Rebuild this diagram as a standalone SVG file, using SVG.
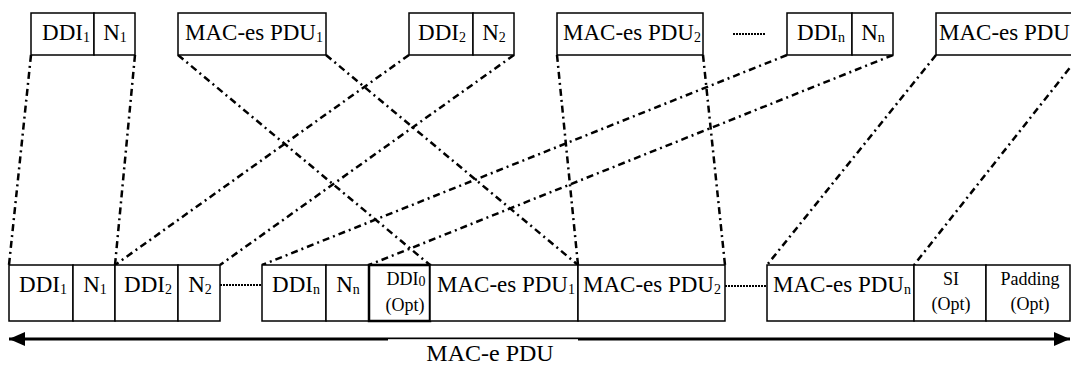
<svg xmlns="http://www.w3.org/2000/svg" width="1071" height="365" viewBox="0 0 1071 365">
<defs>
<style>
.box{fill:#fff;stroke:#000;stroke-width:1.5}
.thick{fill:#fff;stroke:#000;stroke-width:2.5}
.t{font-family:"Liberation Serif","Times New Roman",serif;font-size:23px;fill:#000;text-anchor:middle}
.s{font-family:"Liberation Serif","Times New Roman",serif;font-size:18px;fill:#000;text-anchor:middle}
.sub{font-size:14px}
.dd{fill:none;stroke:#000;stroke-width:2.5;stroke-dasharray:7 4 2 4}
.dot{fill:none;stroke:#000;stroke-width:2;stroke-dasharray:2 1}
</style>
<marker id="ah" viewBox="0 0 16 14" refX="16" refY="7" markerWidth="16" markerHeight="14" markerUnits="userSpaceOnUse" orient="auto-start-reverse">
<path d="M0,0 L16,7 L0,14 Z" fill="#000"/>
</marker>
</defs>
<rect width="1071" height="365" fill="#fff"/>

<g id="connectors">
<line class="dd" x1="31" y1="55" x2="9" y2="265"/>
<line class="dd" x1="135" y1="55" x2="115" y2="265"/>
<line class="dd" x1="178" y1="55" x2="430" y2="265"/>
<line class="dd" x1="326" y1="55" x2="578" y2="265"/>
<line class="dd" x1="409" y1="55" x2="115" y2="265"/>
<line class="dd" x1="514" y1="55" x2="220" y2="265"/>
<line class="dd" x1="557" y1="55" x2="578" y2="265"/>
<line class="dd" x1="703" y1="55" x2="725" y2="265"/>
<line class="dd" x1="787" y1="55" x2="262" y2="265"/>
<line class="dd" x1="893" y1="55" x2="369" y2="265"/>
<line class="dd" x1="936" y1="55" x2="767" y2="265"/>
<line class="dd" x1="1080" y1="55" x2="914" y2="265"/>
<line class="dot" x1="733" y1="34" x2="765" y2="34"/>
<line class="dot" x1="220" y1="285" x2="262" y2="285"/>
<line class="dot" x1="725" y1="286" x2="767" y2="286"/>
<line x1="9" y1="339" x2="1070" y2="339" stroke="#000" stroke-width="3" marker-start="url(#ah)" marker-end="url(#ah)"/>
<rect x="388" y="339.2" width="190" height="26" fill="#fff"/>
</g>

<g id="top-ddi1-n1">
<rect class="box" x="31" y="13" width="63" height="42"/>
<rect class="box" x="94" y="13" width="41" height="42"/>
<text class="t" x="66" y="40">DDI<tspan class="sub" dy="1.5">1</tspan></text>
<text class="t" x="115" y="40">N<tspan class="sub" dy="1.5">1</tspan></text>
</g>
<g id="top-pdu1">
<rect class="box" x="178" y="13" width="148" height="42"/>
<text class="t" x="254" y="40">MAC-es PDU<tspan class="sub" dy="1.5">1</tspan></text>
</g>
<g id="top-ddi2-n2">
<rect class="box" x="409" y="13" width="64" height="42"/>
<rect class="box" x="473" y="13" width="41" height="42"/>
<text class="t" x="442" y="40">DDI<tspan class="sub" dy="1.5">2</tspan></text>
<text class="t" x="494" y="40">N<tspan class="sub" dy="1.5">2</tspan></text>
</g>
<g id="top-pdu2">
<rect class="box" x="557" y="13" width="146" height="42"/>
<text class="t" x="632" y="40">MAC-es PDU<tspan class="sub" dy="1.5">2</tspan></text>
</g>
<g id="top-ddin-nn">
<rect class="box" x="787" y="13" width="65" height="42"/>
<rect class="box" x="852" y="13" width="41" height="42"/>
<text class="t" x="821" y="40">DDI<tspan class="sub" dy="1.5">n</tspan></text>
<text class="t" x="873" y="40">N<tspan class="sub" dy="1.5">n</tspan></text>
</g>
<g id="top-pdun">
<rect class="box" x="936" y="13" width="150" height="42"/>
<text class="t" x="939" y="40" style="text-anchor:start">MAC-es PDU</text>
</g>

<g id="bot-ddi1">
<rect class="box" x="9" y="265" width="64" height="56"/>
<text class="t" x="43" y="292">DDI<tspan class="sub" dy="1.5">1</tspan></text>
</g>
<g id="bot-n1">
<rect class="box" x="73" y="265" width="42" height="56"/>
<text class="t" x="95" y="292">N<tspan class="sub" dy="1.5">1</tspan></text>
</g>
<g id="bot-ddi2">
<rect class="box" x="115" y="265" width="63" height="56"/>
<text class="t" x="148" y="292">DDI<tspan class="sub" dy="1.5">2</tspan></text>
</g>
<g id="bot-n2">
<rect class="box" x="178" y="265" width="42" height="56"/>
<text class="t" x="200" y="292">N<tspan class="sub" dy="1.5">2</tspan></text>
</g>
<g id="bot-ddin">
<rect class="box" x="262" y="265" width="64" height="56"/>
<text class="t" x="296" y="292">DDI<tspan class="sub" dy="1.5">n</tspan></text>
</g>
<g id="bot-nn">
<rect class="box" x="326" y="265" width="43" height="56"/>
<text class="t" x="348" y="292">N<tspan class="sub" dy="1.5">n</tspan></text>
</g>
<g id="bot-ddi0">
<rect class="thick" x="369" y="265" width="61" height="56"/>
<text class="s" x="406" y="285">DDI<tspan class="sub" dy="1">0</tspan></text>
<text class="s" x="405" y="311">(Opt)</text>
</g>
<g id="bot-pdu1">
<rect class="box" x="430" y="265" width="148" height="56"/>
<text class="t" x="506" y="292">MAC-es PDU<tspan class="sub" dy="1.5">1</tspan></text>
</g>
<g id="bot-pdu2">
<rect class="box" x="578" y="265" width="147" height="56"/>
<text class="t" x="652" y="292">MAC-es PDU<tspan class="sub" dy="1.5">2</tspan></text>
</g>
<g id="bot-pdun">
<rect class="box" x="767" y="265" width="147" height="56"/>
<text class="t" x="842" y="292">MAC-es PDU<tspan class="sub" dy="1.5">n</tspan></text>
</g>
<g id="bot-si">
<rect class="box" x="914" y="265" width="72" height="56"/>
<text class="s" x="951" y="285">SI</text>
<text class="s" x="951" y="310">(Opt)</text>
</g>
<g id="bot-padding">
<rect class="box" x="986" y="265" width="84" height="56"/>
<text class="s" x="1030" y="285">Padding</text>
<text class="s" x="1030" y="310">(Opt)</text>
</g>
<g id="label">
<text class="t" x="490" y="361" style="font-size:24px">MAC-e PDU</text>
</g>
</svg>
